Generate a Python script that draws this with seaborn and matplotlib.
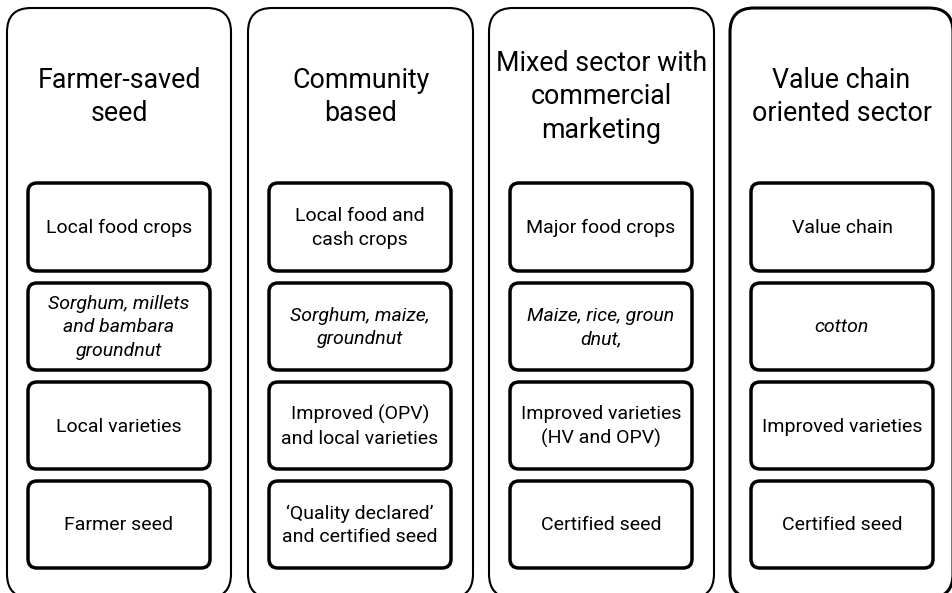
import matplotlib
matplotlib.use("Agg")
import matplotlib.pyplot as plt
from matplotlib.patches import FancyBboxPatch
import seaborn as sns

sns.set_theme(style="white")
plt.rcParams['font.family'] = ['Roboto', 'Liberation Sans', 'DejaVu Sans']

# ---- content ----
titles = ["Farmer-saved\nseed", "Community\nbased",
          "Mixed sector with\ncommercial\nmarketing", "Value chain\noriented sector"]
crops_type = ["Local food crops", "Local food and\ncash crops",
              "Major food crops", "Value chain"]
crop_examples = ["Sorghum, millets\nand bambara\ngroundnut", "Sorghum, maize,\ngroundnut",
                 "Maize, rice, groun\ndnut,", "cotton"]
varieties = ["Local varieties", "Improved (OPV)\nand local varieties",
             "Improved varieties\n(HV and OPV)", "Improved varieties"]
seed_class = ["Farmer seed", "\u2018Quality declared\u2019\nand certified seed",
              "Certified seed", "Certified seed"]
rows = [crops_type, crop_examples, varieties, seed_class]
row_italic = [False, True, False, False]

# ---- layout ----
W, H = 952, 593
fig = plt.figure(figsize=(W / 100, H / 100), dpi=100)
ax = fig.add_axes([0, 0, 1, 1])
ax.set_xlim(0, W)
ax.set_ylim(H, 0)
ax.axis("off")

outer_x = [(7, 231), (248, 473), (489, 714), (730, 953)]
outer_lw = [1.5, 1.5, 1.5, 2.2]
outer_top, outer_bot = 8, 598
inner_x = [(28, 210), (269, 451), (510, 692), (751, 933)]
row_y = [(183, 271), (283, 370), (382, 469), (481, 568)]
title_y = 97

for c in range(4):
    x0, x1 = outer_x[c]
    ax.add_patch(FancyBboxPatch((x0, outer_top), x1 - x0, outer_bot - outer_top,
                                boxstyle="round,pad=0,rounding_size=24",
                                fc="white", ec="black", lw=outer_lw[c]))
    ax.text((x0 + x1) / 2, title_y, titles[c], ha="center", va="center",
            fontsize=19.3, linespacing=1.32, color="black")
    ix0, ix1 = inner_x[c]
    for r in range(4):
        y0, y1 = row_y[r]
        ax.add_patch(FancyBboxPatch((ix0, y0), ix1 - ix0, y1 - y0,
                                    boxstyle="round,pad=0,rounding_size=9",
                                    fc="white", ec="black", lw=2.5))
        ax.text((ix0 + ix1) / 2, (y0 + y1) / 2 + 1, rows[r][c], ha="center", va="center",
                fontsize=14, linespacing=1.4, color="black",
                style="italic" if row_italic[r] else "normal")

fig.savefig("out.png", dpi=100)
